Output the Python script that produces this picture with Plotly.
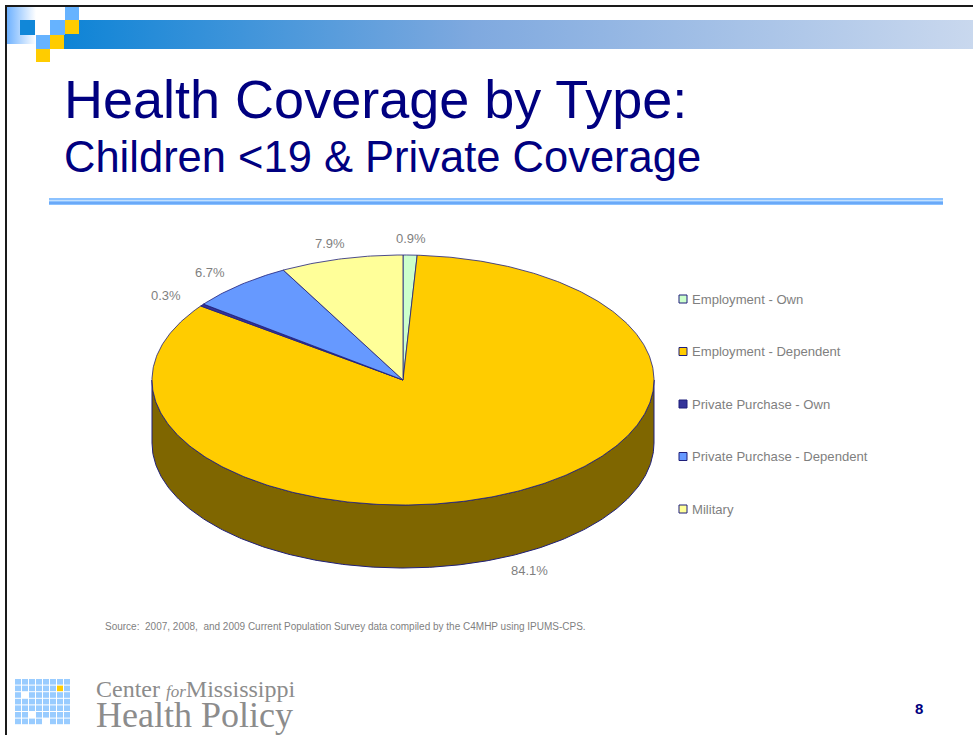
import math
import plotly.graph_objects as go

# ---- data -------------------------------------------------------------
categories = ["Employment - Own", "Employment - Dependent", "Private Purchase - Own",
              "Private Purchase - Dependent", "Military"]
shares = [0.9, 84.1, 0.3, 6.7, 7.9]          # percent of children <19 with private coverage
slice_colors = ["#CCFFCC", "#FFCC00", "#333399", "#6699FF", "#FFFF99"]
side_colors = ["#668066", "#7F6600", "#1A1A4D", "#334D80", "#80804D"]

title_line1 = "Health Coverage by Type:"
title_line2 = "Children &lt;19 &amp; Private Coverage"
source_note = ("Source:  2007, 2008,  and 2009 Current Population Survey data compiled "
               "by the C4MHP using IPUMS-CPS.")
page_number = "8"

# ---- page geometry (pixel coordinates, y grows downward) ----------------
W, H = 973, 735
CX, CY = 403, 380      # pie centre
RX, RY = 251, 125      # tilted pie ellipse semi-axes
DEPTH = 63             # thickness of the 3-D pie
OUTLINE = "#1F1F7A"
NAVY = "#000080"
GREY = "#7F7F7F"


def rim(theta, dy=0.0):
    """Point on the pie rim; theta in degrees clockwise from 12 o'clock."""
    t = math.radians(theta)
    return CX + RX * math.sin(t), CY - RY * math.cos(t) + dy


def arc(a0, a1, dy=0.0, n=None):
    n = n or max(2, int(abs(a1 - a0) * 1.5))
    pts = [rim(a0 + (a1 - a0) * k / n, dy) for k in range(n + 1)]
    return [p[0] for p in pts], [p[1] for p in pts]


fig = go.Figure()

# angular extent of every slice (clockwise from the top)
total = sum(shares)
bounds = []
acc = 0.0
for v in shares:
    a0 = acc / total * 360
    acc += v
    bounds.append((a0, acc / total * 360))

# front side walls (visible between 3 and 9 o'clock)
for (a0, a1), col in zip(bounds, side_colors):
    s0, s1 = max(a0, 90), min(a1, 270)
    if s1 <= s0:
        continue
    tx, ty = arc(s0, s1)
    bx, by = arc(s1, s0, DEPTH)
    fig.add_trace(go.Scatter(x=tx + bx + [tx[0]], y=ty + by + [ty[0]], mode="lines",
                             fill="toself", fillcolor=col,
                             line=dict(color=OUTLINE, width=1),
                             hoverinfo="skip", showlegend=False))

# top faces
for (a0, a1), col in zip(bounds, slice_colors):
    ax, ay = arc(a0, a1)
    fig.add_trace(go.Scatter(x=[CX] + ax + [CX], y=[CY] + ay + [CY], mode="lines",
                             fill="toself", fillcolor=col,
                             line=dict(color=OUTLINE, width=0.8),
                             hoverinfo="skip", showlegend=False))

# percentage labels outside each slice
annotations = []
for (a0, a1), v in zip(bounds, shares):
    mid = math.radians((a0 + a1) / 2)
    lx = CX + RX * 1.18 * math.sin(mid)
    ly = CY - RY * 1.13 * math.cos(mid)
    if math.cos(mid) < 0:
        ly += DEPTH
    annotations.append(dict(x=lx, y=ly, text=f"{v:.1f}%", showarrow=False,
                            font=dict(family="Liberation Sans, Arial", size=13, color=GREY)))

# legend
LEG_X, LEG_Y0, LEG_DY = 683, 299, 52.5
fig.add_trace(go.Scatter(
    x=[LEG_X] * len(categories),
    y=[LEG_Y0 + i * LEG_DY for i in range(len(categories))],
    mode="markers",
    marker=dict(symbol="square", size=8, color=slice_colors, line=dict(color=OUTLINE, width=1)),
    hoverinfo="skip", showlegend=False))
for i, name in enumerate(categories):
    annotations.append(dict(x=LEG_X + 7, y=LEG_Y0 + i * LEG_DY, text=name, xanchor="left",
                            showarrow=False,
                            font=dict(family="Liberation Sans, Arial", size=13.1, color=GREY)))

# ---- slide decoration ---------------------------------------------------
# gradient header band
fig.add_trace(go.Scatter(x=[64, W, W, 64, 64], y=[20, 20, 49, 49, 20], mode="lines",
                         fill="toself", line=dict(width=0),
                         fillgradient=dict(type="horizontal",
                                           colorscale=[[0, "#0E84D6"], [0.45, "#7FA9DF"],
                                                       [1, "#C9D8EE"]]),
                         hoverinfo="skip", showlegend=False))
fig.add_trace(go.Scatter(x=[7, 36, 36, 7, 7], y=[7, 7, 44, 44, 7], mode="lines",
                         fill="toself", line=dict(width=0),
                         fillgradient=dict(type="horizontal",
                                           colorscale=[[0, "#6FB2FF"], [1, "#FFFFFF"]]),
                         hoverinfo="skip", showlegend=False))

shapes = []


def rect(x0, y0, x1, y1, color, layer="below"):
    shapes.append(dict(type="rect", xref="x", yref="y", x0=x0, y0=y0, x1=x1, y1=y1,
                       fillcolor=color, line=dict(width=0), layer=layer))


# checker squares at the top-left corner
rect(20, 20, 35, 35, "#1187D8", "above")
rect(50, 20, 65, 35, "#66B3FF", "above")
rect(65, 7, 79, 20, "#66B3FF", "above")
rect(65, 20, 79, 34, "#FFCC00", "above")
rect(36, 35, 50, 49, "#66B3FF", "above")
rect(50, 35, 64, 49, "#FFCC00", "above")
rect(36, 49, 50, 62, "#FFCC00", "above")

# slide frame
shapes.append(dict(type="line", xref="x", yref="y", x0=5, y0=6, x1=W, y1=6,
                   line=dict(color="#1A1A1A", width=2)))
shapes.append(dict(type="line", xref="x", yref="y", x0=6, y0=5, x1=6, y1=H,
                   line=dict(color="#1A1A1A", width=2)))

# rule under the title
rect(49, 198, 943, 205, "#8CC2FF")
shapes.append(dict(type="line", xref="x", yref="y", x0=49, y0=200.5, x1=943, y1=200.5,
                   line=dict(color="#C2E0FF", width=1)))
shapes.append(dict(type="line", xref="x", yref="y", x0=49, y0=203, x1=943, y1=203,
                   line=dict(color="#6AA9F8", width=2)))

# logo grid
white_cells = {(1, 2), (2, 5), (4, 6)}
for c in range(8):
    for r in range(7):
        col = "#FFFFFF" if (c, r) in white_cells else "#99CCFF"
        if (c, r) == (6, 1):
            col = "#FFCC00"
        rect(15 + c * 7, 679 + r * 6.6, 15 + c * 7 + 6, 679 + r * 6.6 + 5.6, col)

# titles and footer texts
annotations += [
    dict(x=62, y=99, text=title_line1, xanchor="left", showarrow=False,
         font=dict(family="Liberation Sans, Arial", size=54, color=NAVY)),
    dict(x=62, y=157, text=title_line2, xanchor="left", showarrow=False,
         font=dict(family="Liberation Sans, Arial", size=43.5, color=NAVY)),
    dict(x=103, y=626, text=source_note, xanchor="left", showarrow=False,
         font=dict(family="Liberation Sans, Arial", size=10, color=GREY)),
    dict(x=919, y=708, text=f"<b>{page_number}</b>", showarrow=False,
         font=dict(family="Liberation Sans, Arial", size=15, color=NAVY)),
    dict(x=94, y=705, xanchor="left", align="left", showarrow=False,
         text=("<span style='font-size:24px'>Center </span>"
               "<i><span style='font-size:17px'>for</span></i>"
               "<span style='font-size:24px'>Mississippi</span><br>"
               "<span style='font-size:36px'>Health Policy</span>"),
         font=dict(family="Liberation Serif, Times New Roman", size=23, color="#8C8C8C")),
]

fig.update_layout(
    width=W, height=H, margin=dict(l=0, r=0, t=0, b=0),
    paper_bgcolor="white", plot_bgcolor="white",
    xaxis=dict(range=[0, W], visible=False, fixedrange=True),
    yaxis=dict(range=[H, 0], visible=False, fixedrange=True),
    shapes=shapes, annotations=annotations, showlegend=False,
)

fig.write_html("out.html", config={"displayModeBar": False})
